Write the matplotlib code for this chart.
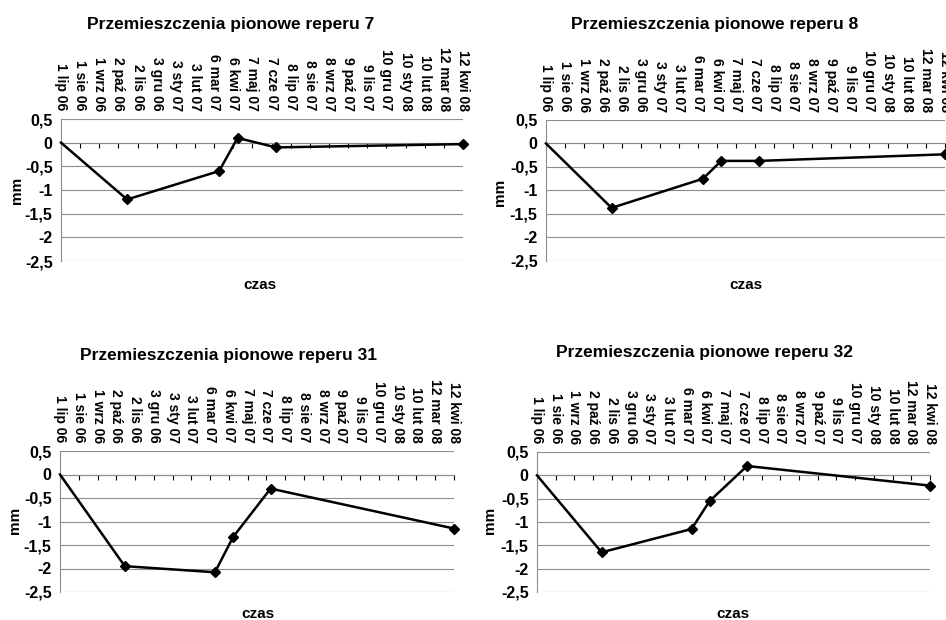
import pandas as pd
from matplotlib import pyplot as plt
from matplotlib import dates as mdates

plt.rcParams['font.family'] = ['Liberation Sans', 'DejaVu Sans']

dates = pd.to_datetime(['2006-07-01', '2006-10-16', '2007-03-14',
                        '2007-04-13', '2007-06-14', '2008-04-12'])

reper_7 = [0, -1.2, -0.6, 0.1, -0.1, -0.03]
reper_8 = [0, -1.37, -0.75, -0.37, -0.37, -0.23]
reper_31 = [0, -1.95, -2.08, -1.33, -0.3, -1.15]
reper_32 = [0, -1.65, -1.15, -0.55, 0.2, -0.22]

tick_labels = ['1 lip 06', '1 sie 06', '1 wrz 06', '2 paź 06', '2 lis 06',
               '3 gru 06', '3 sty 07', '3 lut 07', '6 mar 07', '6 kwi 07',
               '7 maj 07', '7 cze 07', '8 lip 07', '8 sie 07', '8 wrz 07',
               '9 paź 07', '9 lis 07', '10 gru 07', '10 sty 08', '10 lut 08',
               '12 mar 08', '12 kwi 08']
tick_dates = pd.date_range('2006-07-01', periods=len(tick_labels), freq='31D')

yticks = [0.5, 0, -0.5, -1, -1.5, -2, -2.5]
ytick_labels = ['0,5', '0', '-0,5', '-1', '-1,5', '-2', '-2,5']

W, H = 946, 620
fig = plt.figure(figsize=(W / 100, H / 100), dpi=100)

# (name, values, plot box in px: left, top, right, bottom, title xy, mm xy, czas xy)
panels = [
    ('7', reper_7, (61, 119, 463, 261), (231, 25), (17, 190), (260, 285)),
    ('8', reper_8, (546, 120, 945, 261), (715, 25), (500, 192), (746, 285)),
    ('31', reper_31, (60, 451, 454, 592), (228, 355), (15, 520), (258, 614)),
    ('32', reper_32, (537, 452, 930, 592), (704, 353), (490, 520), (733, 614)),
]

x = mdates.date2num(dates)
xt = mdates.date2num(tick_dates)


def px(xp, yp):
    return xp / W, 1 - yp / H


for name, vals, (l, t, r, b), tpos, mpos, cpos in panels:
    ax = fig.add_axes([l / W, 1 - b / H, (r - l) / W, (b - t) / H])
    ax.plot(x, vals, color='black', lw=1.8, marker='D', ms=5.5,
            markevery=list(range(1, len(vals))), clip_on=False, zorder=5)
    ax.set_xlim(xt[0], xt[-1])
    ax.set_ylim(-2.5, 0.5)
    ax.set_yticks(yticks, ytick_labels)
    ax.tick_params(axis='y', length=0, pad=6, labelsize=11.5)
    for lab in ax.get_yticklabels():
        lab.set_fontweight('bold')
    ax.grid(axis='y', color='#8c8c8c', lw=0.8)
    ax.set_axisbelow(True)
    ax.spines['top'].set_visible(False)
    ax.spines['right'].set_visible(False)
    ax.spines['left'].set_color('#8c8c8c')
    ax.spines['bottom'].set_position(('data', 0))
    ax.spines['bottom'].set_color('#8c8c8c')
    ax.set_xticks(xt)
    ax.tick_params(axis='x', direction='out', length=3.5, width=0.8,
                   color='black', labelbottom=False)

    sec = ax.secondary_xaxis('top')
    sec.set_xticks(xt, tick_labels)
    sec.tick_params(length=0, pad=6, labelsize=10, labelrotation=-90)
    for lab in sec.get_xticklabels():
        lab.set_fontweight('bold')
    sec.spines['top'].set_visible(False)

    fig.text(*px(*tpos), 'Przemieszczenia pionowe reperu ' + name,
             ha='center', va='center', fontsize=12.5, fontweight='bold')
    fig.text(*px(*mpos), 'mm', ha='center', va='center', rotation=90,
             fontsize=11, fontweight='bold')
    fig.text(*px(*cpos), 'czas', ha='center', va='center',
             fontsize=11, fontweight='bold')

fig.savefig('out.png', dpi=100)
